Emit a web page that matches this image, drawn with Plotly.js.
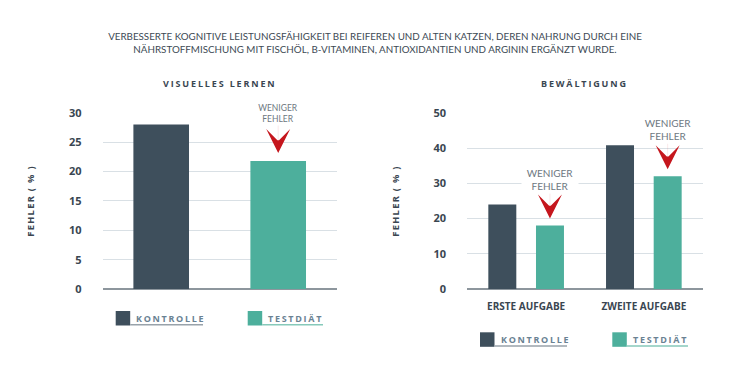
<!DOCTYPE html>
<html><head><meta charset="utf-8">
<script src="https://cdn.plot.ly/plotly-3.0.1.min.js"></script>
<style>
html,body{margin:0;padding:0;background:#fff}
#chart{width:750px;height:375px}
text[data-unformatted="VISUELLES LERNEN"],text[data-unformatted="BEWÄLTIGUNG"]{letter-spacing:1.85px}
text[data-unformatted="FEHLER ( % )"]{letter-spacing:1.3px}
text[data-unformatted="KONTROLLE"],text[data-unformatted="TESTDIÄT"]{letter-spacing:1.7px}
</style>
</head><body>
<div id="chart"></div>
<script>
// ---- data ----
const seriesNames = ['KONTROLLE', 'TESTDIÄT'];
const visualKontrolle = [28];
const visualTestdiaet = [21.8];
const tasks = ['ERSTE AUFGABE', 'ZWEITE AUFGABE'];
const copingKontrolle = [24, 40.8];
const copingTestdiaet = [18, 32];
const visualTicks = [0, 5, 10, 15, 20, 25, 30];
const copingTicks = [0, 10, 20, 30, 40, 50];
const mainTitle = 'VERBESSERTE KOGNITIVE LEISTUNGSFÄHIGKEIT BEI REIFEREN UND ALTEN KATZEN, DEREN NAHRUNG DURCH EINE<br>NÄHRSTOFFMISCHUNG MIT FISCHÖL, B-VITAMINEN, ANTIOXIDANTIEN UND ARGININ ERGÄNZT WURDE.';
const panelTitles = ['VISUELLES LERNEN', 'BEWÄLTIGUNG'];
const yTitle = 'FEHLER ( % )';
const noteText = 'WENIGER<br>FEHLER';

// ---- style ----
const KCOL = '#3e4f5c';
const TCOL = '#4daf9c';
const RED = '#c5161d';
const DARK = '#3a4651';
const GRID = '#d9e0e5';
const FONT = 'Open Sans';

const traces = [
  {type:'bar', name:seriesNames[0], x:[seriesNames[0]], y:visualKontrolle, xaxis:'x', yaxis:'y',
   marker:{color:KCOL}, offsetgroup:'v', showlegend:false, hoverinfo:'skip'},
  {type:'bar', name:seriesNames[1], x:[seriesNames[1]], y:visualTestdiaet, xaxis:'x', yaxis:'y',
   marker:{color:TCOL}, offsetgroup:'v', showlegend:false, hoverinfo:'skip'},
  {type:'bar', name:seriesNames[0], x:tasks, y:copingKontrolle, xaxis:'x2', yaxis:'y2',
   marker:{color:KCOL}, offsetgroup:'k', showlegend:false, hoverinfo:'skip'},
  {type:'bar', name:seriesNames[1], x:tasks, y:copingTestdiaet, xaxis:'x2', yaxis:'y2',
   marker:{color:TCOL}, offsetgroup:'t', showlegend:false, hoverinfo:'skip'}
];

const yBase = {
  gridcolor:GRID, gridwidth:1, zeroline:true, zerolinecolor:'#8d969d', zerolinewidth:1.5,
  ticks:'outside', ticklen:18, tickcolor:'rgba(0,0,0,0)', showline:false,
  tickfont:{family:FONT, size:11, color:DARK, weight:700},
  title:{text:yTitle, font:{family:FONT, size:9.3, color:DARK, weight:700}, standoff:32},
  fixedrange:true
};

const layout = {
  width:750, height:375, margin:{l:0, r:0, t:0, b:0},
  paper_bgcolor:'#fff', plot_bgcolor:'#fff',
  barmode:'group', bargap:0.19, bargroupgap:0.413,
  showlegend:false,
  title:{text:mainTitle, x:0.5, xanchor:'center', y:1-40/375, yanchor:'middle', yref:'container',
         font:{family:'Lato', size:9.8, color:'#3d4a55'}},
  xaxis:{domain:[102.7/750, 336.7/750], anchor:'y', showticklabels:false, ticks:'', showgrid:false,
         fixedrange:true},
  yaxis:Object.assign({}, yBase, {domain:[0.2293, 0.699], anchor:'x', range:[0,30], tickvals:visualTicks}),
  xaxis2:{domain:[467.3/750, 702.7/750], anchor:'y2', showgrid:false, ticks:'outside', ticklen:8,
          tickcolor:'rgba(0,0,0,0)', tickfont:{family:FONT, size:10, color:DARK, weight:700}, fixedrange:true},
  yaxis2:Object.assign({}, yBase, {domain:[0.2293, 0.699], anchor:'x2', range:[0,50], tickvals:copingTicks}),
  annotations:[],
  shapes:[]
};

// panel titles
[[219/750, panelTitles[0]], [584/750, panelTitles[1]]].forEach(([px, t]) => {
  layout.annotations.push({xref:'paper', yref:'paper', x:px, y:1-83/375, text:t, showarrow:false,
    xanchor:'center', yanchor:'middle', font:{family:FONT, size:9, color:DARK, weight:700}});
});

// "weniger Fehler" notes with arrows
function note(xref, yref, x, y, ay, standoff, size, w, xs) {
  return {xref:xref, yref:yref, x:x, y:y, text:noteText, showarrow:true, arrowhead:3,
    arrowsize:40, arrowwidth:0.1, arrowcolor:RED, ax:0, ay:ay, standoff:standoff, xshift:xs,
    bgcolor:'#ffffff', borderpad:1, width:w,
    font:{family:'Lato', size:size, color:'#6e7881'}};
}
layout.annotations.push(note('x', 'y', seriesNames[1], visualTestdiaet[0], -47.5, 8, 8.5, 46, 0));
layout.annotations.push(note('x2', 'y2', tasks[0], copingTestdiaet[0], -46, 7, 10, 54, 23.8));
layout.annotations.push(note('x2', 'y2', tasks[1], copingTestdiaet[1], -46.5, 7, 10, 54, 23.8));

// custom legends (square + underlined label)
function legendItem(sqX0, sqY0, size, textEnd, name, col, lineCol) {
  layout.shapes.push({type:'rect', xref:'paper', yref:'paper',
    x0:sqX0/750, x1:(sqX0+size)/750, y0:1-(sqY0+size)/375, y1:1-sqY0/375,
    fillcolor:col, line:{width:0}});
  layout.shapes.push({type:'line', xref:'paper', yref:'paper',
    x0:(sqX0+size)/750, x1:textEnd/750, y0:1-(sqY0+size-0.8)/375, y1:1-(sqY0+size-0.8)/375,
    line:{color:lineCol, width:1.5}});
  layout.annotations.push({xref:'paper', yref:'paper', x:(sqX0+size+4)/750, y:1-(sqY0+size/2)/375,
    text:name, showarrow:false, xanchor:'left', yanchor:'middle',
    font:{family:FONT, size:9, color:'#6a8293', weight:700}});
}
legendItem(115.7, 311, 14.5, 203, seriesNames[0], KCOL, '#98a2aa');
legendItem(247.7, 311, 14.5, 323, seriesNames[1], TCOL, '#86c9ba');
legendItem(480, 332.3, 14.5, 567, seriesNames[0], KCOL, '#98a2aa');
legendItem(612.3, 332.3, 14.5, 688, seriesNames[1], TCOL, '#86c9ba');

Plotly.newPlot('chart', traces, layout, {displayModeBar:false, staticPlot:true});
</script>
</body></html>
